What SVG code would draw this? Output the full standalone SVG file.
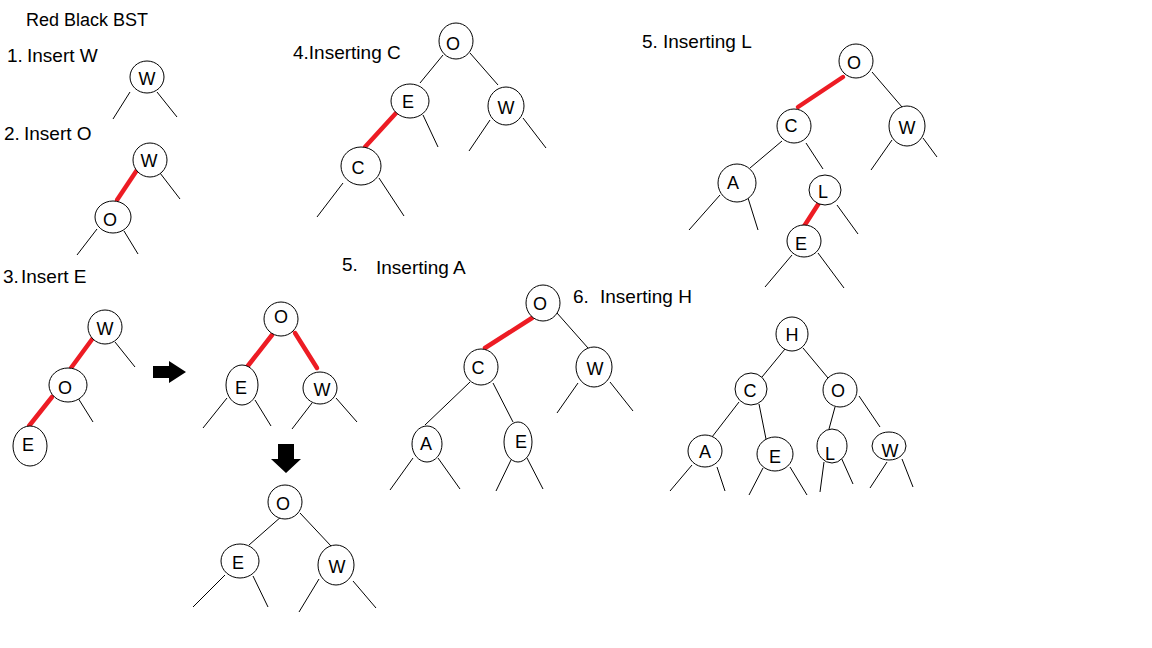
<svg xmlns="http://www.w3.org/2000/svg" width="1152" height="648" viewBox="0 0 1152 648">
<style>
.n{fill:#fff;stroke:#000;stroke-width:1}
.l{font-family:"Liberation Sans",Arial,sans-serif;font-size:18px;fill:#000;text-anchor:middle}
.t{font-family:"Liberation Sans",Arial,sans-serif;font-size:19px;fill:#000}
.e line{stroke:#000;stroke-width:1}
.e line.r{stroke:#ED1C24;stroke-width:4.5;stroke-linecap:round}
.ar{fill:#000}
</style>
<rect width="1152" height="648" fill="#fff"/>
<g id="labels">
<text class="t" x="26" y="26" style="font-size:18px">Red Black BST</text>
<text class="t" x="7" y="62">1. <tspan x="27">Insert W</tspan></text>
<text class="t" x="4" y="140">2.<tspan x="24">Insert O</tspan></text>
<text class="t" x="3" y="283">3.<tspan x="21">Insert E</tspan></text>
<text class="t" x="293" y="59">4.Inserting C</text>
<text class="t" x="642" y="48">5. <tspan x="663">Inserting L</tspan></text>
<text class="t" x="342" y="271">5.<tspan x="376" y="274">Inserting A</tspan></text>
<text class="t" x="573" y="303">6.<tspan x="600">Inserting H</tspan></text>
</g>
<g id="connectors" class="e">
<line x1="130" y1="92" x2="113" y2="119"/><line x1="157" y1="92" x2="177" y2="117"/>
<line class="r" x1="137" y1="170" x2="117" y2="200"/><line x1="160" y1="173" x2="180" y2="199"/><line x1="97" y1="229" x2="77" y2="255"/><line x1="124" y1="231" x2="138" y2="254"/>
<line class="r" x1="93" y1="338" x2="71" y2="368"/><line x1="115" y1="342" x2="135" y2="367"/><line class="r" x1="52" y1="397" x2="29" y2="426"/><line x1="78" y1="398" x2="93" y2="422"/>
<line class="r" x1="272" y1="335" x2="247" y2="367"/><line class="r" x1="295" y1="333" x2="317" y2="368"/><line x1="227" y1="398" x2="203" y2="428"/><line x1="255" y1="400" x2="271" y2="426"/><line x1="312" y1="403" x2="292" y2="429"/><line x1="336" y1="398" x2="357" y2="422"/>
<line x1="282" y1="516" x2="249" y2="545"/><line x1="300" y1="513" x2="331" y2="546"/><line x1="225" y1="575" x2="193" y2="607"/><line x1="253" y1="576" x2="268" y2="607"/><line x1="319" y1="579" x2="299" y2="612"/><line x1="353" y1="581" x2="376" y2="608"/>
<line x1="443" y1="55" x2="420" y2="83"/><line x1="470" y1="53" x2="498" y2="85"/><line x1="423" y1="115" x2="438" y2="147"/><line class="r" x1="397" y1="112" x2="365" y2="147"/><line x1="490" y1="120" x2="469" y2="151"/><line x1="523" y1="118" x2="546" y2="148"/><line x1="343" y1="183" x2="317" y2="217"/><line x1="379" y1="178" x2="404" y2="216"/>
<line class="r" x1="843" y1="77" x2="798" y2="107"/><line x1="872" y1="72" x2="902" y2="107"/><line x1="892" y1="140" x2="871" y2="170"/><line x1="923" y1="138" x2="937" y2="157"/><line x1="782" y1="141" x2="750" y2="168"/><line x1="806" y1="143" x2="823" y2="169"/><line x1="720" y1="195" x2="689" y2="230"/><line x1="748" y1="198" x2="758" y2="230"/><line class="r" x1="819" y1="203" x2="801" y2="231"/><line x1="837" y1="205" x2="858" y2="234"/><line x1="792" y1="255" x2="765" y2="287"/><line x1="818" y1="253" x2="844" y2="288"/>
<line class="r" x1="532" y1="318" x2="485" y2="348"/><line x1="557" y1="313" x2="588" y2="348"/><line x1="578" y1="383" x2="557" y2="413"/><line x1="610" y1="382" x2="633" y2="411"/><line x1="470" y1="382" x2="425" y2="425"/><line x1="493" y1="383" x2="513" y2="422"/><line x1="413" y1="458" x2="390" y2="490"/><line x1="438" y1="458" x2="460" y2="489"/><line x1="511" y1="460" x2="496" y2="491"/><line x1="527" y1="458" x2="543" y2="489"/>
<line x1="785" y1="349" x2="762" y2="377"/><line x1="803" y1="348" x2="828" y2="378"/><line x1="739" y1="402" x2="712" y2="437"/><line x1="759" y1="404" x2="766" y2="439"/><line x1="835" y1="407" x2="829" y2="429"/><line x1="859" y1="396" x2="880" y2="427"/><line x1="692" y1="465" x2="670" y2="491"/><line x1="717" y1="467" x2="725" y2="491"/><line x1="763" y1="468" x2="749" y2="495"/><line x1="790" y1="467" x2="807" y2="495"/><line x1="824" y1="462" x2="820" y2="492"/><line x1="840" y1="455" x2="853" y2="484"/><line x1="887" y1="462" x2="870" y2="488"/><line x1="902" y1="459" x2="913" y2="487"/>
<polygon class="ar" points="153,366 169,366 169,361 186,372 169,383 169,378 153,378"/>
<polygon class="ar" points="278,444 294,444 294,459 301,459 286,473 271,459 278,459"/>
</g>
<g id="t1-W"><ellipse class="n" cx="147" cy="77" rx="17" ry="16"/><text class="l" x="147" y="84.5">W</text></g>
<g id="t2-W"><ellipse class="n" cx="150" cy="160" rx="17" ry="17"/><text class="l" x="149" y="166.5">W</text></g>
<g id="t2-O"><ellipse class="n" cx="113" cy="217" rx="18" ry="16"/><text class="l" x="110" y="225.5">O</text></g>
<g id="t3a-W"><ellipse class="n" cx="105" cy="327" rx="17" ry="17"/><text class="l" x="105" y="334.5">W</text></g>
<g id="t3a-O"><ellipse class="n" cx="68" cy="385" rx="19" ry="17"/><text class="l" x="65" y="393.5">O</text></g>
<g id="t3a-E"><ellipse class="n" cx="30" cy="446" rx="17" ry="20"/><text class="l" x="28" y="450.5">E</text></g>
<g id="t3b-O"><ellipse class="n" cx="281" cy="319" rx="17" ry="17"/><text class="l" x="281" y="322.5">O</text></g>
<g id="t3b-E"><ellipse class="n" cx="242" cy="385" rx="16" ry="20"/><text class="l" x="241" y="393.5">E</text></g>
<g id="t3b-W"><ellipse class="n" cx="320" cy="388" rx="17" ry="16"/><text class="l" x="322" y="395.5">W</text></g>
<g id="t3c-O"><ellipse class="n" cx="285" cy="502" rx="17" ry="17"/><text class="l" x="283" y="509.5">O</text></g>
<g id="t3c-E"><ellipse class="n" cx="240" cy="561" rx="19" ry="17"/><text class="l" x="238" y="568.5">E</text></g>
<g id="t3c-W"><ellipse class="n" cx="336" cy="565" rx="18" ry="20"/><text class="l" x="337" y="572.5">W</text></g>
<g id="t4-O"><ellipse class="n" cx="456" cy="41" rx="17" ry="18"/><text class="l" x="453" y="49.5">O</text></g>
<g id="t4-E"><ellipse class="n" cx="410" cy="101" rx="19" ry="17"/><text class="l" x="408" y="107.5">E</text></g>
<g id="t4-W"><ellipse class="n" cx="506" cy="106" rx="18" ry="19"/><text class="l" x="506" y="113.5">W</text></g>
<g id="t4-C"><ellipse class="n" cx="361" cy="166" rx="20" ry="19"/><text class="l" x="358" y="173.5">C</text></g>
<g id="t5-O"><ellipse class="n" cx="856" cy="61" rx="17" ry="17"/><text class="l" x="854" y="68.5">O</text></g>
<g id="t5-C"><ellipse class="n" cx="794" cy="126" rx="17" ry="17"/><text class="l" x="791" y="131.5">C</text></g>
<g id="t5-W"><ellipse class="n" cx="907" cy="126" rx="18" ry="20"/><text class="l" x="907" y="133.5">W</text></g>
<g id="t5-A"><ellipse class="n" cx="737" cy="183" rx="19" ry="19"/><text class="l" x="733" y="188.5">A</text></g>
<g id="t5-L"><ellipse class="n" cx="825" cy="190" rx="16" ry="15"/><text class="l" x="823" y="197.5">L</text></g>
<g id="t5-E"><ellipse class="n" cx="804" cy="241" rx="17" ry="16"/><text class="l" x="801" y="249.5">E</text></g>
<g id="t6-O"><ellipse class="n" cx="543" cy="303" rx="17" ry="18"/><text class="l" x="540" y="309.5">O</text></g>
<g id="t6-C"><ellipse class="n" cx="481" cy="367" rx="17" ry="18"/><text class="l" x="478" y="373.5">C</text></g>
<g id="t6-W"><ellipse class="n" cx="594" cy="367" rx="18" ry="20"/><text class="l" x="595" y="374.5">W</text></g>
<g id="t6-A"><ellipse class="n" cx="427" cy="444" rx="15" ry="18"/><text class="l" x="426" y="449.5">A</text></g>
<g id="t6-E"><ellipse class="n" cx="518" cy="442" rx="14" ry="20"/><text class="l" x="521" y="447.5">E</text></g>
<g id="t7-H"><ellipse class="n" cx="792" cy="334" rx="16" ry="17"/><text class="l" x="792" y="340.5">H</text></g>
<g id="t7-C"><ellipse class="n" cx="751" cy="389" rx="16" ry="16"/><text class="l" x="750" y="396.5">C</text></g>
<g id="t7-O"><ellipse class="n" cx="840" cy="390" rx="17" ry="17"/><text class="l" x="838" y="396.5">O</text></g>
<g id="t7-A"><ellipse class="n" cx="705" cy="451" rx="17" ry="16"/><text class="l" x="705" y="457.5">A</text></g>
<g id="t7-E"><ellipse class="n" cx="775" cy="454" rx="18" ry="17"/><text class="l" x="775" y="462.5">E</text></g>
<g id="t7-L"><ellipse class="n" cx="832" cy="446" rx="15" ry="17"/><text class="l" x="830" y="459.5">L</text></g>
<g id="t7-W"><ellipse class="n" cx="889" cy="446" rx="17" ry="14"/><text class="l" x="890" y="456.5">W</text></g>
</svg>
